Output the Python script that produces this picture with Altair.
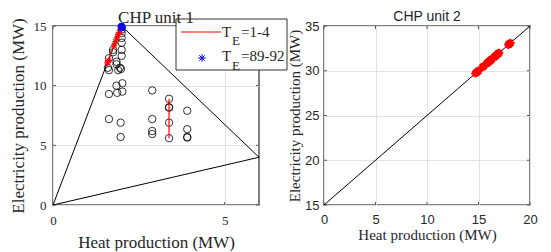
import altair as alt
import pandas as pd

# ---------------- CHP unit 1 ----------------
u1_region_x = [0, 1.58, 2.0, 6.0, 0]
u1_region_y = [0, 11.9, 15.0, 4.0, 0]

u1_circle_x = [1.63, 1.75, 1.60, 1.63, 1.85, 1.90, 1.95, 1.98, 2.00, 2.00, 2.00, 2.00,
               2.00, 2.00, 1.85, 1.75, 2.02, 1.85, 1.63, 1.87, 2.02, 1.63, 1.97, 1.97,
               2.89, 2.89, 2.89, 2.89, 3.38, 3.38, 3.38, 3.38, 3.38, 3.91, 3.91, 3.91, 3.91]
u1_circle_y = [12.3, 12.8, 11.5, 11.3, 11.8, 11.3, 11.5, 11.4, 12.5, 13.0, 13.6, 14.0,
               14.4, 14.7, 12.0, 13.0, 10.2, 10.0, 9.3, 9.4, 9.5, 7.2, 6.9, 5.7,
               9.6, 7.2, 6.2, 5.95, 8.9, 8.2, 8.15, 6.9, 5.6, 7.9, 6.35, 5.7, 5.65]

u1_red_x = [1.58, 1.62, 1.78, 1.82, 1.86, 1.90, 1.95]
u1_red_y = [11.9, 12.1, 13.4, 13.7, 14.0, 14.3, 14.6]

u1_red2_x = [3.38, 3.38]
u1_red2_y = [5.6, 8.9]

u1_blue_x = [1.98, 2.00, 2.02, 2.00]
u1_blue_y = [14.95, 15.0, 14.9, 14.85]

u1_xticks = [0, 5]
u1_yticks = [0, 5, 10, 15]

# ---------------- CHP unit 2 ----------------
u2_line_x = [0, 20]
u2_line_y = [15, 35]
u2_red_x = [14.7, 14.8, 14.9, 15.0, 15.4, 15.5, 15.8, 15.9, 16.0, 16.1, 16.2, 16.3,
            16.5, 16.6, 16.7, 16.8, 16.9, 17.0, 17.9, 18.0, 18.1]
u2_red_y = [29.7, 29.8, 29.9, 30.0, 30.4, 30.5, 30.8, 30.9, 31.0, 31.1, 31.2, 31.3,
            31.5, 31.6, 31.7, 31.8, 31.9, 32.0, 32.9, 33.0, 33.1]
u2_xticks = [0, 5, 10, 15, 20]
u2_yticks = [15, 20, 25, 30, 35]

W, H = 206, 179
SERIF = "Liberation Serif"
SANS = "Liberation Sans"
TXT = "#262626"
FRAME = "#555555"
GRID = "#e2e2e2"
STAR = "M-1,0L1,0M0,-1L0,1M-0.7,-0.7L0.7,0.7M-0.7,0.7L0.7,-0.7"


def df(**kw):
    d = pd.DataFrame(kw)
    d["i"] = range(len(d))
    return d


def make_axis(values, font, lsize, title, tfont, tsize, lpad, tpad):
    return alt.Axis(values=values, grid=True, gridColor=GRID, gridWidth=1, domain=False,
                    ticks=False, labelFont=font, labelFontSize=lsize, labelColor=TXT,
                    labelPadding=lpad, labelFlush=False, title=title, titleFont=tfont,
                    titleFontSize=tsize, titleFontWeight="normal", titleColor=TXT,
                    titlePadding=tpad)


def panel(xdom, ydom, xticks, yticks, font, lsize, tfont, tsize, xlpad, xtpad, ylpad, ytpad):
    xa = make_axis(xticks, font, lsize, "Heat production (MW)", tfont, tsize, xlpad, xtpad)
    ya = make_axis(yticks, font, lsize, "Electricity production (MW)", tfont, tsize, ylpad, ytpad)
    X = lambda f: alt.X(f, type="quantitative", scale=alt.Scale(domain=xdom, nice=False, zero=False), axis=xa)
    Y = lambda f: alt.Y(f, type="quantitative", scale=alt.Scale(domain=ydom, nice=False, zero=False), axis=ya)
    xt = pd.DataFrame({"x": xticks})
    yt = pd.DataFrame({"y": yticks})
    ticks = [
        alt.Chart(xt).mark_rule(color=FRAME, strokeWidth=1).encode(x=X("x"), y=alt.value(0), y2=alt.value(3)),
        alt.Chart(xt).mark_rule(color=FRAME, strokeWidth=1).encode(x=X("x"), y=alt.value(H), y2=alt.value(H - 3)),
        alt.Chart(yt).mark_rule(color=FRAME, strokeWidth=1).encode(y=Y("y"), x=alt.value(0), x2=alt.value(3)),
        alt.Chart(yt).mark_rule(color=FRAME, strokeWidth=1).encode(y=Y("y"), x=alt.value(W), x2=alt.value(W - 3)),
    ]
    return X, Y, ticks


one = pd.DataFrame({"a": [0]})


def txt(s, x, y, size, font=SERIF, align="left"):
    return alt.Chart(one).mark_text(text=s, font=font, fontSize=size, color=TXT, align=align,
                                    baseline="alphabetic").encode(x=alt.value(x), y=alt.value(y))


# ----- left panel -----
X1, Y1, ticks1 = panel([0, 6], [0, 15], u1_xticks, u1_yticks, SERIF, 13, SERIF, 17, 9, 7, 7, 6)

region = alt.Chart(df(x=u1_region_x, y=u1_region_y)).mark_line(color="black", strokeWidth=1).encode(
    x=X1("x"), y=Y1("y"), order="i:Q")
circles = alt.Chart(df(x=u1_circle_x, y=u1_circle_y)).mark_point(
    shape="circle", filled=False, color="black", size=55, strokeWidth=0.8, opacity=1).encode(x=X1("x"), y=Y1("y"))
red_line = alt.Chart(df(x=u1_red_x, y=u1_red_y)).mark_line(color="#ff0000", strokeWidth=1.2).encode(
    x=X1("x"), y=Y1("y"), order="i:Q")
red_stars = alt.Chart(df(x=u1_red_x, y=u1_red_y)).mark_point(
    shape=STAR, filled=False, color="#ff0000", size=40, strokeWidth=1.2, opacity=1).encode(x=X1("x"), y=Y1("y"))
red2 = alt.Chart(df(x=u1_red2_x, y=u1_red2_y)).mark_line(color="#ff0000", strokeWidth=1.2).encode(
    x=X1("x"), y=Y1("y"), order="i:Q")
blue = alt.Chart(df(x=u1_blue_x, y=u1_blue_y)).mark_point(
    shape=STAR, filled=False, color="#0000ff", size=50, strokeWidth=2, opacity=1).encode(x=X1("x"), y=Y1("y"))

leg_box = alt.Chart(one).mark_rect(fill="white", stroke="#333333", strokeWidth=1).encode(
    x=alt.value(123), x2=alt.value(234), y=alt.value(-7), y2=alt.value(44))
leg_line = alt.Chart(one).mark_rule(color="#ff0000", strokeWidth=1.2).encode(
    x=alt.value(128), x2=alt.value(168), y=alt.value(6))
leg_star = alt.Chart(one).mark_point(shape=STAR, filled=False, color="#0000ff", size=60,
                                     strokeWidth=1, opacity=1).encode(x=alt.value(149), y=alt.value(32))
leg_text = [txt("T", 169, 11, 15), txt("E", 179, 19, 13), txt("=1-4", 188, 11, 15),
            txt("T", 169, 35, 15), txt("E", 179, 44, 13), txt("=89-92", 188, 35, 15)]
title1 = txt("CHP unit 1", W / 2, -3, 17, SERIF, "center")

left = alt.layer(*ticks1, region, circles, red2, red_line, red_stars, blue, leg_box, leg_line, leg_star,
                 *leg_text, title1).properties(width=W, height=H)

# ----- right panel -----
X2, Y2, ticks2 = panel([0, 20], [15, 35], u2_xticks, u2_yticks, SANS, 13, SERIF, 15, 8, 1, 5, 2)
diag = alt.Chart(df(x=u2_line_x, y=u2_line_y)).mark_line(color="black", strokeWidth=1).encode(
    x=X2("x"), y=Y2("y"), order="i:Q")
stars2 = alt.Chart(df(x=u2_red_x, y=u2_red_y)).mark_point(
    shape=STAR, filled=False, color="#ff0000", size=70, strokeWidth=2, opacity=1).encode(x=X2("x"), y=Y2("y"))
title2 = txt("CHP unit 2", W / 2, -5, 14, SANS, "center")

right = alt.layer(*ticks2, diag, stars2, title2).properties(width=W, height=H)

chart = alt.hconcat(left, right, spacing=65, bounds="flush",
                    padding={"left": 0, "top": 0, "right": 5, "bottom": 0}).configure_view(
    stroke=FRAME, strokeWidth=1.5)

chart.save("out.html", embed_options={"renderer": "svg", "actions": False})
